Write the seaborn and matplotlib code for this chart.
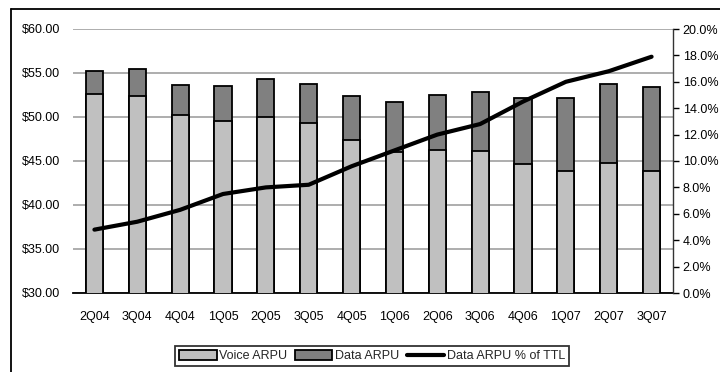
import numpy as np
import pandas as pd
import matplotlib
matplotlib.use("Agg")
import matplotlib.pyplot as plt
import seaborn as sns
from matplotlib.ticker import FuncFormatter, FixedLocator
from matplotlib.patches import Patch
from matplotlib.lines import Line2D

quarters = ["2Q04", "3Q04", "4Q04", "1Q05", "2Q05", "3Q05", "4Q05",
            "1Q06", "2Q06", "3Q06", "4Q06", "1Q07", "2Q07", "3Q07"]
voice_arpu = [52.57, 52.35, 50.19, 49.55, 50.00, 49.32, 47.35,
              46.06, 46.20, 46.10, 44.70, 43.83, 44.74, 43.90]
total_arpu = [55.26, 55.42, 53.64, 53.52, 54.32, 53.75, 52.35,
              51.74, 52.50, 52.88, 52.20, 52.16, 53.70, 53.44]
data_pct = [4.8, 5.4, 6.3, 7.5, 8.0, 8.2, 9.6,
            10.8, 12.0, 12.8, 14.5, 16.0, 16.8, 17.9]

VOICE_C = "#c0c0c0"
DATA_C = "#808080"

sns.set_theme(style="white")
plt.rcParams["font.family"] = ["Liberation Sans", "DejaVu Sans"]
plt.rcParams["font.size"] = 9

df = pd.DataFrame({"quarter": quarters, "voice": voice_arpu, "total": total_arpu})

fig = plt.figure(figsize=(7.2, 3.72), dpi=100)
ax = fig.add_axes([73 / 720, 1 - 293 / 372, 600 / 720, 264 / 372])

# total bar (data portion shows above the voice bar)
sns.barplot(data=df, x="quarter", y="total", color=DATA_C, saturation=1,
            width=0.4, edgecolor="black", linewidth=1.3, ax=ax, zorder=2)
sns.barplot(data=df, x="quarter", y="voice", color=VOICE_C, saturation=1,
            width=0.4, edgecolor="black", linewidth=1.3, ax=ax, zorder=3)

ax.set_ylim(30, 60)
ax.set_xlim(-0.5, len(quarters) - 0.5)
ax.set_yticks(np.arange(30, 61, 5))
ax.yaxis.set_major_formatter(FuncFormatter(lambda v, p: f"${v:.2f}"))
ax.grid(axis="y", color="#a0a0a0", linewidth=1.2, zorder=0)
ax.set_axisbelow(True)
ax.set_xlabel("")
ax.set_ylabel("")
for s in ["left", "top", "right"]:
    ax.spines[s].set_visible(False)
ax.spines["bottom"].set_color("black")
ax.spines["bottom"].set_linewidth(1.3)
ax.tick_params(axis="y", length=0, pad=9, labelsize=9, colors="black")
ax.tick_params(axis="x", which="major", length=0, pad=13, labelsize=9, colors="black")
ax.xaxis.set_minor_locator(FixedLocator(np.arange(-0.5, len(quarters), 1.0)))
ax.tick_params(axis="x", which="minor", length=5, width=1.3, color="black", direction="out")

ax2 = ax.twinx()
sns.lineplot(x=np.arange(len(quarters)), y=data_pct, color="black",
             linewidth=3, ax=ax2, zorder=5)
ax2.set_ylim(0, 20)
ax2.set_xlim(-0.5, len(quarters) - 0.5)
ax2.set_yticks(np.arange(0, 21, 2))
ax2.yaxis.set_major_formatter(FuncFormatter(lambda v, p: f"{v:.1f}%"))
for s in ["left", "top", "bottom"]:
    ax2.spines[s].set_visible(False)
ax2.spines["right"].set_visible(True)
ax2.spines["right"].set_color("#333333")
ax2.spines["right"].set_linewidth(1.0)
ax2.tick_params(axis="y", length=4, width=1.0, direction="out", pad=3,
                labelsize=9, colors="black")
ax2.set_ylabel("")

handles = [Patch(facecolor=VOICE_C, edgecolor="black", linewidth=1.3),
           Patch(facecolor=DATA_C, edgecolor="black", linewidth=1.3),
           Line2D([0], [0], color="black", linewidth=3)]
leg = fig.legend(handles, ["Voice ARPU", "Data ARPU", "Data ARPU % of TTL"],
                 loc="center", bbox_to_anchor=(372 / 720, 1 - 356 / 372),
                 ncol=3, frameon=True, fancybox=False, fontsize=9,
                 handlelength=3.0, handleheight=0.8, handletextpad=0.2,
                 columnspacing=0.6, borderpad=0.35, borderaxespad=0)
leg.get_frame().set_edgecolor("black")
leg.get_frame().set_linewidth(1.3)

# outer frame lines along the top and left edges
fig.add_artist(Line2D([11 / 720, 1.0], [1 - 9 / 372, 1 - 9 / 372],
                      color="black", linewidth=1.3, transform=fig.transFigure))
fig.add_artist(Line2D([11 / 720, 11 / 720], [0.0, 1 - 9 / 372],
                      color="black", linewidth=1.3, transform=fig.transFigure))

fig.savefig("out.png", dpi=100)
